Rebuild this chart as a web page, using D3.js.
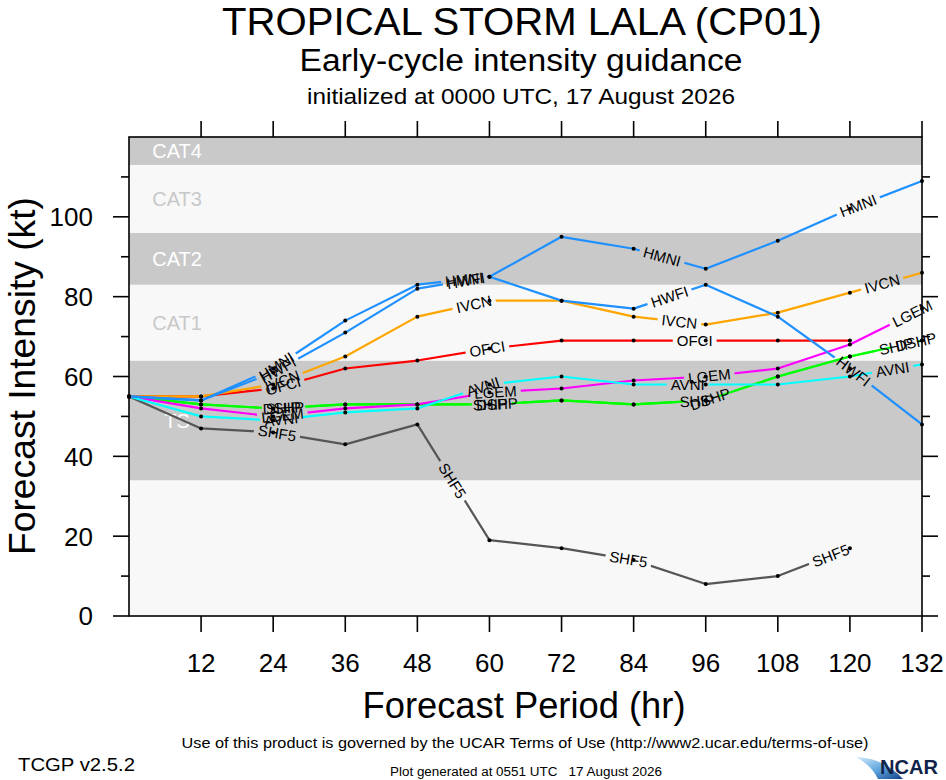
<!DOCTYPE html>
<html><head><meta charset="utf-8">
<script src="https://cdn.jsdelivr.net/npm/d3@7"></script>
<style>
body{margin:0;background:#fff;}
svg{display:block;font-family:"Liberation Sans",Arial,Helvetica,sans-serif;}
</style>
</head><body>
<svg id="chart" width="946" height="780"></svg>
<script>
// ---------------- data ----------------
const hours = [0, 12, 24, 36, 48, 60, 72, 84, 96, 108, 120, 132];
const xTickValues = [12, 24, 36, 48, 60, 72, 84, 96, 108, 120, 132];
const yMajorTicks = [0, 20, 40, 60, 80, 100];
const yMinorTicks = [10, 30, 50, 70, 90, 110];

const bandNames = ["", "TS", "CAT1", "CAT2", "CAT3", "CAT4", "CAT5"];
const bandLows  = [0, 34, 64, 83, 96, 113, 137];
const bandHighs = [34, 64, 83, 96, 113, 137, 160];

const modelNames = ["SHF5", "SHIP", "DSHP", "LGEM", "AVNI", "OFCI", "IVCN", "HWFI", "HMNI"];
const HMNI = [55, 54, 62, 74, 83, 85, 95, 92, 87, 94, 102, 109];
const HWFI = [55, 54, 61, 71, 82, 85, 79, 77, 83, 75, 62, 48];
const IVCN = [55, 55, 58, 65, 75, 79, 79, 75, 73, 76, 81, 86];
const OFCI = [55, 55, 57, 62, 64, 67, 69, 69, 69, 69, 69, null];
const AVNI = [55, 50, 49, 51, 52, 58, 60, 58, 58, 58, 60, 63];
const LGEM = [55, 52, 50, 52, 53, 56, 57, 59, 60, 62, 68, 77];
const SHIP = [55, 53, 52, 53, 53, 53, 54, 53, 54, 60, 65, 69];
const DSHP = [55, 53, 52, 53, 53, 53, 54, 53, 54, 60, 65, 69];
const SHF5 = [55, 47, 46, 43, 48, 19, 17, 14, 8, 10, 17, null];

const seriesValues = {HMNI, HWFI, IVCN, OFCI, AVNI, LGEM, SHIP, DSHP, SHF5};
const seriesColors = {
  HMNI: "#1e90ff", HWFI: "#1e90ff", IVCN: "#ffa500", OFCI: "#ff0000",
  AVNI: "#00ffff", LGEM: "#ff00ff", SHIP: "#00ff00", DSHP: "#00ff00", SHF5: "#555555"
};

const titleText = "TROPICAL STORM LALA (CP01)";
const subtitleText = "Early-cycle intensity guidance";
const initText = "initialized at 0000 UTC, 17 August 2026";

// ---------------- layout ----------------
const svg = d3.select("#chart");
const L = 129, R = 922, T = 137, B = 616;
const x = d3.scaleLinear().domain([0, 132]).range([L, R]);
const y = d3.scaleLinear().domain([0, 120]).range([B, T]);

svg.append("rect").attr("width", 946).attr("height", 780).attr("fill", "#fff");

const defs = svg.append("defs");
defs.append("clipPath").attr("id", "plotClip")
  .append("rect").attr("x", L).attr("y", T).attr("width", R - L).attr("height", B - T);

// bands
const bands = bandNames.map((n, i) => ({name: n, lo: bandLows[i], hi: bandHighs[i], i}));
const bandG = svg.append("g").attr("clip-path", "url(#plotClip)");
bandG.selectAll("rect").data(bands).join("rect")
  .attr("x", L).attr("width", R - L)
  .attr("y", d => y(d.hi)).attr("height", d => y(d.lo) - y(d.hi))
  .attr("fill", d => d.i % 2 === 1 ? "#c9c9c9" : "#f8f8f8");

bandG.selectAll("text").data(bands.filter(d => d.name && d.lo < 120)).join("text")
  .attr("x", x(8)).attr("y", d => (y(Math.min(d.hi, 120)) + y(d.lo)) / 2)
  .attr("dy", "0.36em")
  .attr("text-anchor", "middle")
  .attr("font-size", 20)
  .attr("fill", d => d.i % 2 === 1 ? "#ffffff" : "#c8c8c8")
  .text(d => d.name);

// ---------------- series ----------------
const lineGen = d3.line().x(d => x(d.h)).y(d => y(d.v));
const series = modelNames.map(name => ({
  name,
  color: seriesColors[name],
  pts: hours.map((h, i) => ({h, v: seriesValues[name][i]})).filter(p => p.v !== null)
}));

const linesG = svg.append("g");
const labelsG = svg.append("g");
const dotsG = svg.append("g");

const labelFont = 15;
const firstLabelAt = 155, labelGap = 172;

series.forEach((s, si) => {
  const tmp = labelsG.append("text").attr("font-size", labelFont).text(s.name);
  const w = tmp.node().getComputedTextLength();
  tmp.remove();

  const tmpPath = linesG.append("path").attr("d", lineGen(s.pts)).attr("fill", "none");
  const node = tmpPath.node();
  const len = node.getTotalLength();
  tmpPath.remove();

  const labels = [];
  for (let d = firstLabelAt; d < len - 4; d += w + labelGap) {
    const p = node.getPointAtLength(d);
    const p1 = node.getPointAtLength(Math.max(0, d - 2));
    const p2 = node.getPointAtLength(Math.min(len, d + 2));
    const ang = Math.atan2(p2.y - p1.y, p2.x - p1.x) * 180 / Math.PI;
    labels.push({x: p.x, y: p.y, a: ang, w});
  }

  const maskId = "mask" + si;
  const mask = defs.append("mask").attr("id", maskId)
    .attr("maskUnits", "userSpaceOnUse").attr("x", 0).attr("y", 0).attr("width", 946).attr("height", 780);
  mask.append("rect").attr("width", 946).attr("height", 780).attr("fill", "#fff");
  mask.selectAll("rect.gap").data(labels).join("rect").attr("class", "gap")
    .attr("x", d => -d.w / 2 - 4).attr("y", -8).attr("width", d => d.w + 8).attr("height", 16)
    .attr("transform", d => `translate(${d.x},${d.y}) rotate(${d.a})`)
    .attr("fill", "#000");

  linesG.append("path")
    .attr("d", lineGen(s.pts))
    .attr("fill", "none")
    .attr("stroke", s.color)
    .attr("stroke-width", 2.2)
    .attr("stroke-linejoin", "round")
    .attr("mask", `url(#${maskId})`);

  labelsG.selectAll(null).data(labels).join("text")
    .attr("transform", d => `translate(${d.x},${d.y}) rotate(${d.a})`)
    .attr("text-anchor", "middle")
    .attr("dy", "0.36em")
    .attr("font-size", labelFont)
    .attr("fill", "#000")
    .text(s.name);

  dotsG.selectAll(null).data(s.pts).join("circle")
    .attr("cx", d => x(d.h)).attr("cy", d => y(d.v)).attr("r", 2)
    .attr("fill", "#000");
});

// ---------------- axes ----------------
const axG = svg.append("g").attr("stroke", "#000").attr("stroke-width", 1.6);
axG.append("rect").attr("x", L).attr("y", T).attr("width", R - L).attr("height", B - T).attr("fill", "none");

axG.selectAll("line.xb").data(xTickValues).join("line").attr("class", "xb")
  .attr("x1", d => x(d)).attr("x2", d => x(d)).attr("y1", B).attr("y2", B + 16);
axG.selectAll("line.xt").data(xTickValues).join("line").attr("class", "xt")
  .attr("x1", d => x(d)).attr("x2", d => x(d)).attr("y1", T).attr("y2", T - 16);
axG.selectAll("line.yl").data(yMajorTicks).join("line").attr("class", "yl")
  .attr("x1", L).attr("x2", L - 16).attr("y1", d => y(d)).attr("y2", d => y(d));
axG.selectAll("line.ylm").data(yMinorTicks).join("line").attr("class", "ylm")
  .attr("x1", L).attr("x2", L - 8).attr("y1", d => y(d)).attr("y2", d => y(d));
axG.selectAll("line.yr").data(yMajorTicks).join("line").attr("class", "yr")
  .attr("x1", R).attr("x2", R + 16).attr("y1", d => y(d)).attr("y2", d => y(d));
axG.selectAll("line.yrm").data(yMinorTicks).join("line").attr("class", "yrm")
  .attr("x1", R).attr("x2", R + 8).attr("y1", d => y(d)).attr("y2", d => y(d));

svg.append("g").selectAll("text").data(xTickValues).join("text")
  .attr("x", d => x(d)).attr("y", 672)
  .attr("text-anchor", "middle").attr("font-size", 26).attr("fill", "#000")
  .text(d => d);
svg.append("g").selectAll("text").data(yMajorTicks).join("text")
  .attr("x", 93).attr("y", d => y(d)).attr("dy", "0.36em")
  .attr("text-anchor", "end").attr("font-size", 26).attr("fill", "#000")
  .text(d => d);

// axis titles
svg.append("text").attr("x", 524).attr("y", 718).attr("text-anchor", "middle")
  .attr("font-size", 36).attr("textLength", 323).attr("lengthAdjust", "spacingAndGlyphs")
  .text("Forecast Period (hr)");
svg.append("text").attr("transform", "translate(35,376) rotate(-90)").attr("text-anchor", "middle")
  .attr("font-size", 36).attr("textLength", 358).attr("lengthAdjust", "spacingAndGlyphs")
  .text("Forecast Intensity (kt)");

// titles
svg.append("text").attr("x", 522).attr("y", 35).attr("text-anchor", "middle")
  .attr("font-size", 39).attr("textLength", 600).attr("lengthAdjust", "spacingAndGlyphs")
  .text(titleText);
svg.append("text").attr("x", 521).attr("y", 71).attr("text-anchor", "middle")
  .attr("font-size", 31).attr("textLength", 443).attr("lengthAdjust", "spacingAndGlyphs")
  .text(subtitleText);
svg.append("text").attr("x", 521).attr("y", 104).attr("text-anchor", "middle")
  .attr("font-size", 22).attr("textLength", 428).attr("lengthAdjust", "spacingAndGlyphs")
  .text(initText);

// footer
svg.append("text").attr("x", 525).attr("y", 748).attr("text-anchor", "middle")
  .attr("font-size", 15).attr("textLength", 687).attr("lengthAdjust", "spacingAndGlyphs")
  .text("Use of this product is governed by the UCAR Terms of Use (http://www2.ucar.edu/terms-of-use)");
svg.append("text").attr("x", 18).attr("y", 771)
  .attr("font-size", 18).attr("textLength", 117).attr("lengthAdjust", "spacingAndGlyphs")
  .text("TCGP v2.5.2");
svg.append("text").attr("x", 526).attr("y", 776).attr("text-anchor", "middle")
  .attr("font-size", 12.5).attr("textLength", 272).attr("lengthAdjust", "spacingAndGlyphs")
  .attr("xml:space", "preserve")
  .text("Plot generated at 0551 UTC   17 August 2026");

// NCAR logo
const grad = defs.append("linearGradient").attr("id", "ncarGrad")
  .attr("x1", "0%").attr("y1", "0%").attr("x2", "100%").attr("y2", "100%");
grad.append("stop").attr("offset", "0%").attr("stop-color", "#d6ecfa");
grad.append("stop").attr("offset", "55%").attr("stop-color", "#5aa2dc");
grad.append("stop").attr("offset", "100%").attr("stop-color", "#143f86");
svg.append("path")
  .attr("d", "M856,757 Q884,758 903,779 L878,779 Q872,766 856,757 Z")
  .attr("fill", "url(#ncarGrad)");
svg.append("text").attr("x", 880).attr("y", 774)
  .attr("font-size", 21).attr("font-weight", "bold").attr("fill", "#13234a")
  .attr("textLength", 58).attr("lengthAdjust", "spacingAndGlyphs")
  .text("NCAR");
</script>
</body></html>
